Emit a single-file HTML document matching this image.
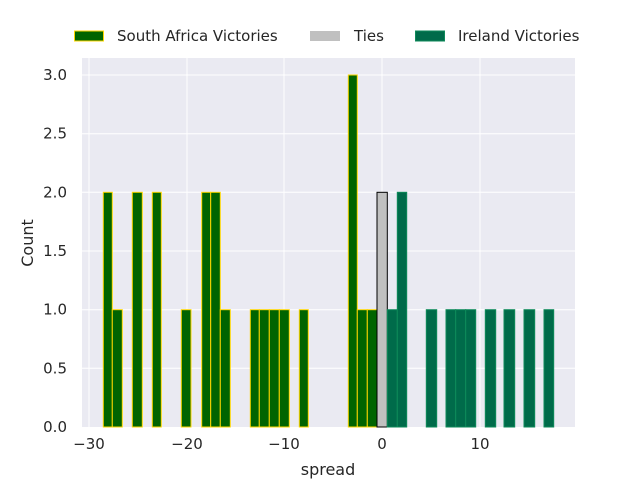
<!DOCTYPE html>
<html><head><style>body{margin:0;background:#fff}</style></head><body>
<svg width="640" height="480" xmlns="http://www.w3.org/2000/svg" font-family="DejaVu Sans, Liberation Sans, sans-serif" fill="#262626">
<rect x="82" y="58" width="493" height="369" fill="#EAEAF2"/>
<g stroke="#fff" stroke-width="1">
<line x1="89" y1="58" x2="89" y2="427"/><line x1="187" y1="58" x2="187" y2="427"/><line x1="284" y1="58" x2="284" y2="427"/><line x1="382" y1="58" x2="382" y2="427"/><line x1="480" y1="58" x2="480" y2="427"/>
<line x1="82" y1="368.3" x2="575" y2="368.3"/><line x1="82" y1="309.7" x2="575" y2="309.7"/><line x1="82" y1="251" x2="575" y2="251"/><line x1="82" y1="192.3" x2="575" y2="192.3"/><line x1="82" y1="133.7" x2="575" y2="133.7"/><line x1="82" y1="75" x2="575" y2="75"/>
</g>
<g fill="#006400" stroke="#FFD700" stroke-width="1">
<rect x="103.3" y="192.3" width="9" height="234.7"/>
<rect x="112.3" y="309.7" width="10" height="117.3"/>
<rect x="132.3" y="192.3" width="10" height="234.7"/>
<rect x="152.3" y="192.3" width="9" height="234.7"/>
<rect x="181.3" y="309.7" width="9.7" height="117.3"/>
<rect x="201.7" y="192.3" width="9" height="234.7"/>
<rect x="210.7" y="192.3" width="9.6" height="234.7"/>
<rect x="220.3" y="309.7" width="10" height="117.3"/>
<rect x="250.3" y="309.7" width="9" height="117.3"/>
<rect x="259.3" y="309.7" width="10" height="117.3"/>
<rect x="269.3" y="309.7" width="10" height="117.3"/>
<rect x="279.3" y="309.7" width="10" height="117.3"/>
<rect x="299.3" y="309.7" width="9" height="117.3"/>
<rect x="348.3" y="75" width="9" height="352"/>
<rect x="357.3" y="309.7" width="10" height="117.3"/>
<rect x="367.3" y="309.7" width="9.7" height="117.3"/>
</g>
<rect x="377" y="192.3" width="10.3" height="234.7" fill="#C0C0C0" stroke="#000" stroke-width="1"/>
<g fill="#006B4A" stroke="#0E8A5A" stroke-width="1">
<rect x="387.3" y="309.7" width="10" height="117.3"/>
<rect x="397.3" y="192.3" width="9.4" height="234.7"/>
<rect x="426.3" y="309.7" width="10.4" height="117.3"/>
<rect x="446" y="309.7" width="9.7" height="117.3"/>
<rect x="455.7" y="309.7" width="10" height="117.3"/>
<rect x="465.7" y="309.7" width="10" height="117.3"/>
<rect x="485.3" y="309.7" width="10.4" height="117.3"/>
<rect x="504" y="309.7" width="10.7" height="117.3"/>
<rect x="524" y="309.7" width="10.7" height="117.3"/>
<rect x="544" y="309.7" width="9.7" height="117.3"/>
</g>
<g font-size="15" text-anchor="middle">
<text x="89" y="449">−30</text><text x="187" y="449">−20</text><text x="284" y="449">−10</text><text x="382" y="449">0</text><text x="480" y="449">10</text>
<text x="328" y="475" font-size="16">spread</text>
</g>
<g font-size="15" text-anchor="end">
<text x="67" y="432">0.0</text><text x="67" y="373.3">0.5</text><text x="67" y="314.7">1.0</text><text x="67" y="256">1.5</text><text x="67" y="197.3">2.0</text><text x="67" y="138.7">2.5</text><text x="67" y="80">3.0</text>
</g>
<text transform="translate(33,243) rotate(-90)" font-size="16" text-anchor="middle">Count</text>
<rect x="74.5" y="31" width="29" height="10" fill="#006400" stroke="#FFD700"/>
<text x="117" y="41" font-size="15">South Africa Victories</text>
<rect x="310" y="31" width="30" height="10" fill="#C0C0C0"/>
<text x="354" y="41" font-size="15">Ties</text>
<rect x="415.5" y="31" width="29" height="10" fill="#006B4A" stroke="#0E8A5A"/>
<text x="458" y="41" font-size="15">Ireland Victories</text>
</svg>
</body></html>
